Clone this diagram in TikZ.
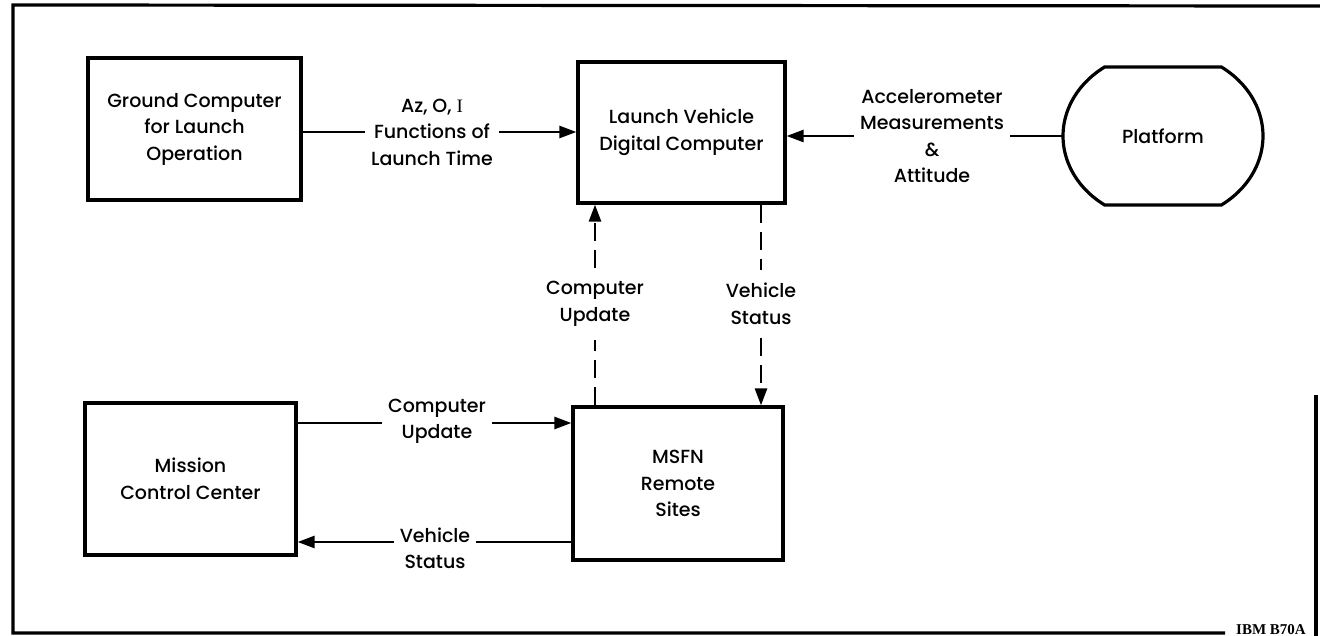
\documentclass[tikz,border=0pt]{standalone}
\usepackage{fontspec}
\setmainfont{Poppins}
\newfontfamily\medfont{Poppins}[UprightFont={* Medium}]
\newfontfamily\ibmfont{Liberation Serif}
\usetikzlibrary{arrows.meta}
\newcommand\dgfont{\medfont\fontsize{19}{26.5}\selectfont}
\begin{document}
\begin{tikzpicture}[x=1pt,y=-1pt,
  box/.style={draw, line width=3.2pt, inner sep=0pt, align=center, font=\dgfont},
  lab/.style={align=center, font=\dgfont, inner xsep=6pt, inner ysep=3pt},
  vlab/.style={align=center, font=\dgfont, inner xsep=6pt, inner ysep=13pt},
  conn/.style={line width=2.6pt},
  dconn/.style={line width=2.6pt, dash pattern=on 18pt off 9pt},
  arr/.style={-{Triangle[length=17pt,width=12pt]}}]
\useasboundingbox (0,0) rectangle (1320,636);
% frame
\draw[line width=3.2pt] (1320,6) -- (13,5) -- (13,633) -- (1225,633);
\draw[line width=3.2pt] (1316,395) -- (1316,636);
\node[font=\ibmfont\bfseries\fontsize{15}{15}\selectfont, anchor=base east, inner sep=0pt] (ibm) at (1306,634) {IBM B70A};
% boxes
\node[box, minimum width=213pt, minimum height=142pt] (ground) at (194.5,129) {Ground Computer\\for Launch\\Operation};
\node[box, minimum width=207pt, minimum height=141pt] (lvdc) at (681.5,132.5) {Launch Vehicle\\Digital Computer};
\node[box, minimum width=211pt, minimum height=152pt] (mcc) at (190.5,479) {Mission\\Control Center};
\node[box, minimum width=210pt, minimum height=153pt] (msfn) at (678,483.5) {MSFN\\Remote\\Sites};
% platform
\draw[line width=3.2pt] plot[domain=-54.3:54.3, samples=50] ({1163+100*cos(\x)},{136+85*sin(\x)})
  -- plot[domain=125.7:234.3, samples=50] ({1163+100*cos(\x)},{136+85*sin(\x)}) -- cycle;
\node[inner sep=0pt, minimum width=200pt, minimum height=138pt, font=\dgfont] (plat) at (1163,136) {Platform};
% labels
\node[lab] (l1) at (432,132) {Az, O, {\ibmfont I}\\Functions of\\Launch Time};
\node[lab] (l2) at (932,136) {Accelerometer\\Measurements\\\&\\Attitude};
\node[vlab] (l3) at (595,304) {Computer\\Update};
\node[vlab] (l4) at (761,304) {Vehicle\\Status};
\node[lab] (l5) at (437,421.5) {Computer\\Update};
\node[lab] (l6) at (435,548.5) {Vehicle\\Status};
\coordinate (y5) at (0,423);
\coordinate (y6) at (0,542);
% connectors
\draw[conn] (ground.east |- l1.west) -- (l1.west);
\draw[conn,arr] (l1.east) -- (l1.east -| lvdc.west);
\draw[conn] (plat.west) -- (plat.west -| l2.east);
\draw[conn,arr] (l2.west) -- (l2.west -| lvdc.east);
\draw[dconn] (l3.south |- msfn.north) -- (l3.south);
\draw[dconn,arr] (l3.north) -- (l3.north |- lvdc.south);
\draw[dconn] (l4.north |- lvdc.south) -- (l4.north);
\draw[dconn,arr] (l4.south) -- (l4.south |- msfn.north);
\draw[conn] (mcc.east |- y5) -- (l5.west |- y5);
\draw[conn,arr] (l5.east |- y5) -- (msfn.west |- y5);
\draw[conn] (msfn.west |- y6) -- (l6.east |- y6);
\draw[conn,arr] (l6.west |- y6) -- (mcc.east |- y6);
\end{tikzpicture}
\end{document}
